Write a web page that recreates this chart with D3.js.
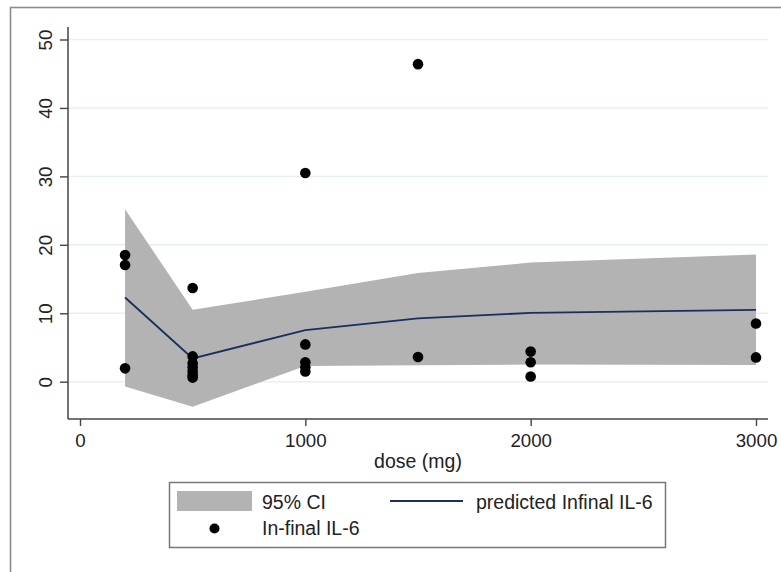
<!DOCTYPE html>
<html>
<head>
<meta charset="utf-8">
<script src="https://cdn.jsdelivr.net/npm/d3@7"></script>
<style>
  body { margin: 0; background: #fff; }
  text { font-family: Arial, 'Liberation Sans', Helvetica, sans-serif; fill: #222; }
</style>
</head>
<body>
<script>
// fitted curve (dose levels) and 95% CI
const doses = [200, 500, 1000, 1500, 2000, 3000];
const predicted = [12.3, 3.4, 7.55, 9.25, 10.05, 10.5];
const ciLower = [-0.7, -3.65, 2.3, 2.4, 2.5, 2.45];
const ciUpper = [25.2, 10.5, 13.15, 15.9, 17.4, 18.6];

// observed ln-final IL-6
const obsDose = [200, 200, 200,
  500, 500, 500, 500, 500, 500, 500,
  1000, 1000, 1000, 1000, 1000,
  1500, 1500,
  2000, 2000, 2000,
  3000, 3000];
const obsIL6 = [18.5, 17.05, 1.95,
  13.7, 3.7, 2.7, 2.1, 1.5, 0.9, 0.6,
  30.5, 5.45, 2.85, 2.1, 1.5,
  46.4, 3.6,
  4.4, 2.85, 0.75,
  8.5, 3.55];

const xTicks = [0, 1000, 2000, 3000];
const yTicks = [0, 10, 20, 30, 40, 50];

const width = 781;
const height = 572;
const plot = { left: 68, right: 768, top: 27, bottom: 419 };

const x = d3.scaleLinear().domain([0, 3000]).range([80, 756]);
const y = d3.scaleLinear().domain([0, 50]).range([381.7, 39.5]);

const svg = d3.select('body')
  .append('svg')
  .attr('width', width)
  .attr('height', height);

// outer graph region border
svg.append('rect')
  .attr('x', 10.5).attr('y', 7.5)
  .attr('width', 900).attr('height', 700)
  .attr('fill', 'none')
  .attr('stroke', '#8c8c8c')
  .attr('stroke-width', 1.6);

// gridlines
svg.append('g')
  .selectAll('line')
  .data(yTicks)
  .enter().append('line')
    .attr('x1', plot.left).attr('x2', plot.right)
    .attr('y1', d => y(d)).attr('y2', d => y(d))
    .attr('stroke', '#e6eff1')
    .attr('stroke-width', 1.5);

const band = d3.area()
  .x((d, i) => x(doses[i]))
  .y0((d, i) => y(ciLower[i]))
  .y1((d, i) => y(ciUpper[i]));

svg.append('path')
  .datum(doses)
  .attr('d', band)
  .attr('fill', '#b3b3b3');

const line = d3.line()
  .x((d, i) => x(doses[i]))
  .y(d => y(d));

svg.append('path')
  .datum(predicted)
  .attr('d', line)
  .attr('fill', 'none')
  .attr('stroke', '#1c2d5f')
  .attr('stroke-width', 1.8);

svg.append('g')
  .selectAll('circle')
  .data(obsIL6)
  .enter().append('circle')
    .attr('cx', (d, i) => x(obsDose[i]))
    .attr('cy', d => y(d))
    .attr('r', 5.3)
    .attr('fill', '#000');

// axes
const xAxis = svg.append('g')
  .attr('transform', `translate(0,${plot.bottom})`)
  .call(d3.axisBottom(x).tickValues(xTicks).tickSize(7).tickPadding(8).tickFormat(d3.format('d')));
xAxis.select('.domain').remove();
xAxis.selectAll('.tick line').attr('stroke', '#444').attr('stroke-width', 1.4);
xAxis.selectAll('.tick text').style('font-size', '18.7px').attr('fill', '#222');

const yAxis = svg.append('g')
  .attr('transform', `translate(${plot.left},0)`)
  .call(d3.axisLeft(y).tickValues(yTicks).tickSize(8).tickPadding(0));
yAxis.select('.domain').remove();
yAxis.selectAll('.tick line').attr('stroke', '#444').attr('stroke-width', 1.4);
yAxis.selectAll('.tick text')
  .attr('x', null).attr('dy', null)
  .attr('text-anchor', 'middle')
  .attr('transform', 'translate(-16,0) rotate(-90)')
  .style('font-size', '18.7px')
  .attr('fill', '#222');

svg.append('line')
  .attr('x1', plot.left).attr('x2', plot.right)
  .attr('y1', plot.bottom).attr('y2', plot.bottom)
  .attr('stroke', '#444').attr('stroke-width', 1.5);
svg.append('line')
  .attr('x1', plot.left).attr('x2', plot.left)
  .attr('y1', plot.top).attr('y2', plot.bottom)
  .attr('stroke', '#444').attr('stroke-width', 1.5);

svg.append('text')
  .attr('x', (plot.left + plot.right) / 2)
  .attr('y', 468)
  .attr('text-anchor', 'middle')
  .style('font-size', '19.5px')
  .text('dose (mg)');

// legend
const legend = svg.append('g').attr('class', 'legend');
legend.append('rect')
  .attr('x', 169.5).attr('y', 482.5)
  .attr('width', 496).attr('height', 65)
  .attr('fill', '#fff')
  .attr('stroke', '#777')
  .attr('stroke-width', 1.5);
legend.append('rect')
  .attr('x', 177).attr('y', 491)
  .attr('width', 75).attr('height', 20)
  .attr('fill', '#b3b3b3');
legend.append('text')
  .attr('x', 262).attr('y', 509)
  .style('font-size', '19.5px')
  .text('95% CI');
legend.append('line')
  .attr('x1', 390).attr('x2', 463)
  .attr('y1', 501).attr('y2', 501)
  .attr('stroke', '#1c2d5f')
  .attr('stroke-width', 1.8);
legend.append('text')
  .attr('x', 476).attr('y', 509)
  .style('font-size', '19.5px')
  .text('predicted Infinal IL-6');
legend.append('circle')
  .attr('cx', 214.5).attr('cy', 528.5)
  .attr('r', 5)
  .attr('fill', '#000');
legend.append('text')
  .attr('x', 262).attr('y', 535)
  .style('font-size', '19.5px')
  .text('In-final IL-6');
</script>
</body>
</html>
